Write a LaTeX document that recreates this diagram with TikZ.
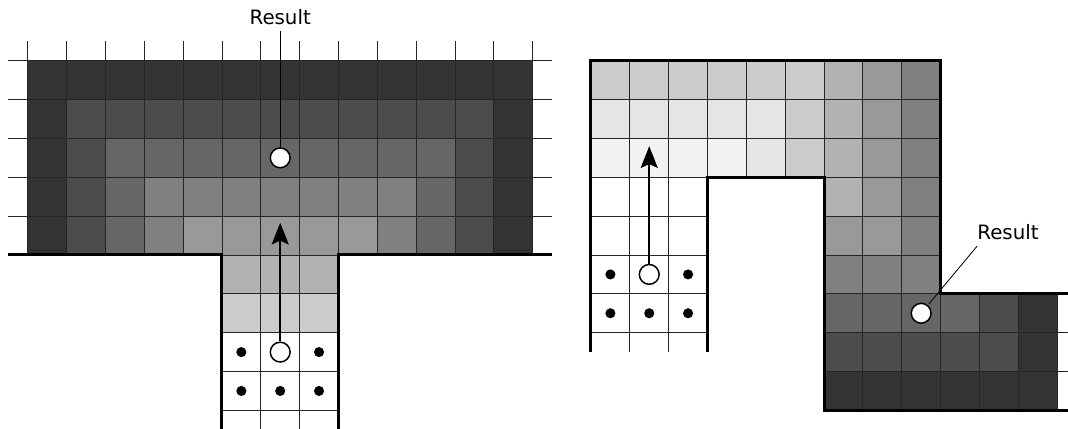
\documentclass[tikz,border=0pt]{standalone}
\usepackage{fontspec}
\newfontfamily\labelfont{DejaVu Sans}
\usetikzlibrary{arrows.meta}

\begin{document}
\begin{tikzpicture}[
    grid/.style={black!85, line width=0.6pt},
    wall/.style={black, line width=2.2pt},
    dot/.style={circle, fill=black, inner sep=0pt, minimum size=2.6mm},
    ring/.style={circle, draw=black, fill=white, line width=1.1pt, inner sep=0pt, minimum size=5.1mm},
    txt/.style={font=\labelfont\fontsize{14.5}{17}\selectfont, inner xsep=0pt, inner ysep=4.5pt},
    leader/.style={black, line width=0.6pt},
    flow/.style={-{Stealth[length=5.6mm, width=4.4mm, inset=1mm]}, line width=1.2pt}
]
\useasboundingbox (-0.713,-4.479) rectangle (26.78,6.564);

% left: T-shaped region, wave rises from the stem
\foreach \c in {0,...,12}
  \foreach \r in {0,...,4} {
    \pgfmathtruncatemacro\w{90-10*(2+max(\r+1,5-\c,\c-7))}
    \fill[white!\w!black] (\c,\r) rectangle ++(1,1);
  }
\fill[white!70!black] (5,-1) rectangle (8,0);
\fill[white!80!black] (5,-2) rectangle (8,-1);

\foreach \x in {0,...,13} \draw[grid] (\x,0) -- (\x,5.5);
\foreach \x in {6,7} \draw[grid] (\x,-4.5) -- (\x,0);
\foreach \y in {1,...,5} \draw[grid] (-0.5,\y) -- (13.5,\y);
\foreach \y in {-4,...,0} \draw[grid] (5,\y) -- (8,\y);
\draw[wall] (-0.5,0) -- (5,0) -- (5,-4.5);
\draw[wall] (8,-4.5) -- (8,0) -- (13.5,0);

\foreach \p [count=\k] in {(5.5,-2.5),(7.5,-2.5),(5.5,-3.5),(6.5,-3.5),(7.5,-3.5)}
  \node[dot] (dotL\k) at \p {};
\node[ring] (srcL) at (6.5,-2.5) {};
\node[ring] (resL) at (6.5,2.5) {};
\coordinate (tipL) at (6.5,0.83);
\node[txt, anchor=base] (labL) at (6.5,5.93) {Result};
\draw[flow] (srcL) -- (tipL);
\draw[leader] (labL) -- (resL);

% right: U-shaped corridor
\foreach \y/\x/\shades in {4/14.5/{80,80,80,80,80,80,70,60,50},
                           3/14.5/{90,90,90,90,90,80,70,60,50},
                           2/14.5/{95,95,95,95,90,80,70,60,50},
                           1/20.5/{70,60,50},
                           0/20.5/{60,60,50},
                           -1/20.5/{50,50,50},
                           -2/20.5/{40,40,40,40,30,20},
                           -3/20.5/{30,30,30,30,30,20},
                           -4/20.5/{20,20,20,20,20,20}}
  \foreach \s [count=\i from 0] in \shades
    \fill[white!\s!black] (\x+\i,\y) rectangle ++(1,1);

\foreach \x in {15.5,16.5} \draw[grid] (\x,-2.5) -- (\x,5);
\foreach \x in {17.5,18.5,19.5,20.5} \draw[grid] (\x,2) -- (\x,5);
\foreach \x in {21.5,22.5} \draw[grid] (\x,-4) -- (\x,5);
\foreach \x in {23.5,24.5,25.5,26.5} \draw[grid] (\x,-4) -- (\x,-1);
\foreach \y in {3,4} \draw[grid] (14.5,\y) -- (23.5,\y);
\foreach \y in {-2,...,2} \draw[grid] (14.5,\y) -- (17.5,\y);
\foreach \y in {-1,...,2} \draw[grid] (20.5,\y) -- (23.5,\y);
\foreach \y in {-3,-2} \draw[grid] (20.5,\y) -- (26.78,\y);
\draw[wall] (14.5,-2.5) -- (14.5,5) -- (23.5,5) -- (23.5,-1) -- (26.78,-1);
\draw[wall] (17.5,-2.5) -- (17.5,2) -- (20.5,2) -- (20.5,-4) -- (26.78,-4);

\foreach \p [count=\k] in {(15,-0.5),(17,-0.5),(15,-1.5),(16,-1.5),(17,-1.5)}
  \node[dot] (dotR\k) at \p {};
\node[ring] (srcR) at (16,-0.5) {};
\node[ring] (resR) at (23,-1.5) {};
\coordinate (tipR) at (16,2.8);
\node[txt, anchor=base west] (labR) at (24.44,0.40) {Result};
\draw[flow] (srcR) -- (tipR);
\draw[leader, shorten >=1pt] (labR.south west) -- (resR);
\end{tikzpicture}
\end{document}
